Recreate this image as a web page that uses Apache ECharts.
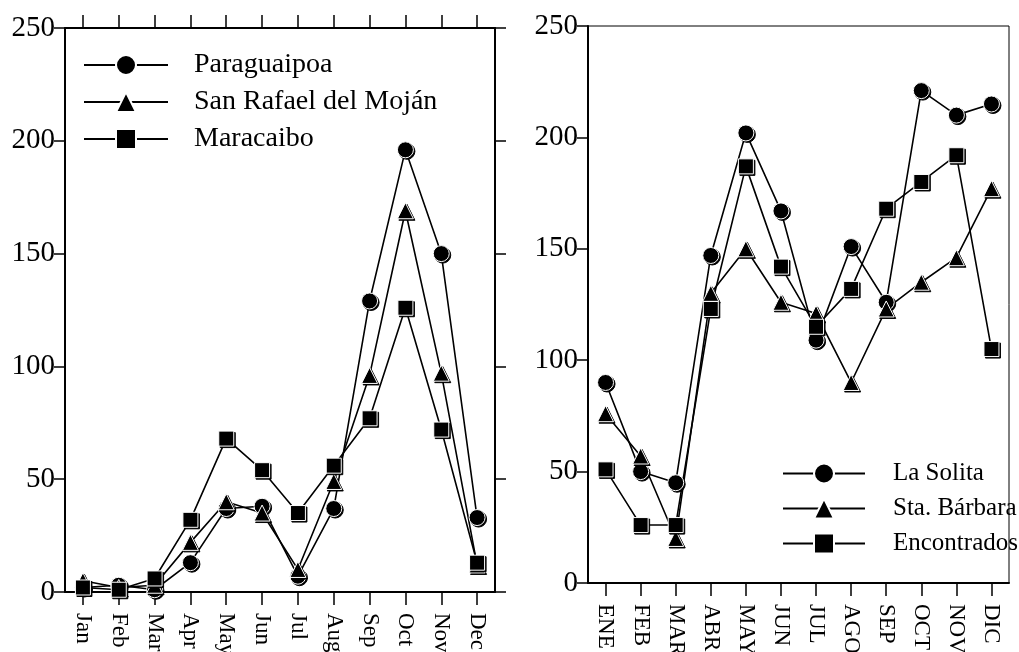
<!DOCTYPE html>
<html lang="en">
<head>
    <meta charset="UTF-8">
    <title>Monthly series</title>
    <style>
        html,body{
            width: 100%;
            height: 100%;
            margin: 0;
            padding: 0;
            background: #fff;
        }
    </style>
</head>
<body>
<div id="main" style="width: 1019px;height:652px;"></div>

<script src="https://cdn.jsdelivr.net/npm/echarts@6/dist/echarts.min.js"></script>
<script>
    // left panel
    var monthsEn = ['Jan','Feb','Mar','Apr','May','Jun','Jul','Aug','Sep','Oct','Nov','Dec'];
    var paraguaipoa = [2, 3, 1, 13, 37, 38, 7, 37, 129, 196, 150, 33];
    var sanRafael   = [5, 2, 3, 22, 40, 35, 10, 49, 96, 169, 97, 12];
    var maracaibo   = [2, 1, 6, 32, 68, 54, 35, 56, 77, 126, 72, 13];

    // right panel
    var monthsEs = ['ENE','FEB','MAR','ABR','MAY','JUN','JUL','AGO','SEP','OCT','NOV','DIC'];
    var laSolita    = [90, 50, 45, 147, 202, 167, 109, 151, 126, 221, 210, 215];
    var staBarbara  = [76, 57, 20, 130, 150, 126, 121, 90, 123, 135, 146, 177];
    var encontrados = [51, 26, 26, 123, 187, 142, 115, 132, 168, 180, 192, 105];

    var serif = 'Liberation Serif';

    var markStyle = {
        color: '#000',
        borderColor: '#fff',
        borderWidth: 1,
        shadowColor: '#000',
        shadowBlur: 0,
        shadowOffsetX: 1.5,
        shadowOffsetY: 1.5
    };

    function mkSeries(name, data, symbol, idx) {
        return {
            name: name,
            type: 'line',
            data: data,
            xAxisIndex: idx,
            yAxisIndex: idx,
            symbol: symbol,
            symbolSize: symbol === 'rect' ? 15 : 16,
            showAllSymbol: true,
            lineStyle: {color: '#000', width: 1.6},
            itemStyle: markStyle,
            animation: false
        };
    }

    function yAx(idx, pos, labels) {
        return {
            type: 'value',
            gridIndex: idx,
            position: pos,
            min: 0,
            max: 250,
            interval: 50,
            splitLine: {show: false},
            axisLine: {show: true, onZero: false, lineStyle: {color: '#000', width: 2}},
            axisTick: {show: true, length: 11, lineStyle: {color: '#000', width: 1.5}},
            axisLabel: {show: labels, margin: 10, color: '#000', fontFamily: serif, fontSize: 29}
        };
    }

    function xAx(idx, pos, cats, labels) {
        return {
            type: 'category',
            gridIndex: idx,
            position: pos,
            data: cats,
            boundaryGap: true,
            axisLine: {show: true, onZero: false, lineStyle: {color: '#000', width: 2}},
            axisTick: {show: true, alignWithLabel: true, length: 13, lineStyle: {color: '#000', width: 1.5}},
            axisLabel: {show: labels, rotate: -90, margin: 21, interval: 0, color: '#000', fontFamily: serif, fontSize: 23}
        };
    }

    var myChart = echarts.init(document.getElementById('main'));

    myChart.setOption({
        backgroundColor: '#fff',
        grid: [
            {left: 65, top: 28, width: 430, height: 564, show: false, outerBoundsMode: 'none'},
            {left: 588, top: 26, width: 421, height: 557, show: true, borderColor: '#000', borderWidth: 1, outerBoundsMode: 'none'}
        ],
        xAxis: [
            xAx(0, 'bottom', monthsEn, true),
            xAx(1, 'bottom', monthsEs, true),
            xAx(0, 'top', monthsEn, false)
        ],
        yAxis: [
            yAx(0, 'left', true),
            yAx(1, 'left', true),
            yAx(0, 'right', false)
        ],
        legend: [
            {
                data: ['Paraguaipoa', 'San Rafael del Moján', 'Maracaibo'],
                orient: 'vertical',
                left: 83,
                top: 51,
                padding: 0,
                itemWidth: 84,
                itemHeight: 25,
                itemGap: 9,
                textStyle: {color: '#000', fontFamily: serif, fontSize: 28, padding: [0, 0, 0, 21]}
            },
            {
                data: ['La Solita', 'Sta. Bárbara', 'Encontrados'],
                orient: 'vertical',
                left: 782,
                top: 461,
                padding: 0,
                itemWidth: 82,
                itemHeight: 25,
                itemGap: 10,
                textStyle: {color: '#000', fontFamily: serif, fontSize: 25, padding: [0, 0, 0, 23]}
            }
        ],
        series: [
            mkSeries('Paraguaipoa', paraguaipoa, 'circle', 0),
            mkSeries('San Rafael del Moján', sanRafael, 'triangle', 0),
            mkSeries('Maracaibo', maracaibo, 'rect', 0),
            mkSeries('La Solita', laSolita, 'circle', 1),
            mkSeries('Sta. Bárbara', staBarbara, 'triangle', 1),
            mkSeries('Encontrados', encontrados, 'rect', 1)
        ]
    });
</script>
</body>
</html>
